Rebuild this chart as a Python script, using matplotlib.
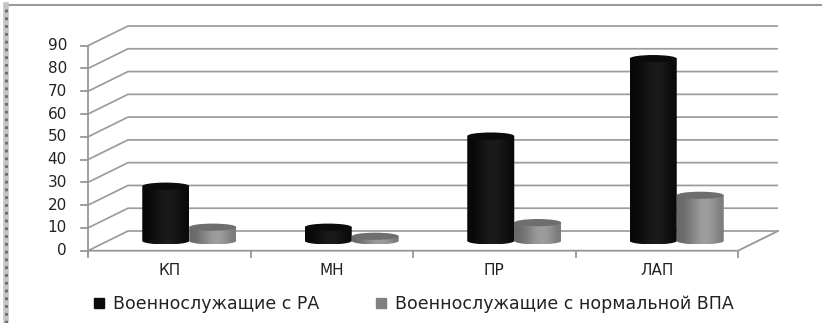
import numpy as np
import matplotlib
matplotlib.use("Agg")
import matplotlib.pyplot as plt
from matplotlib.patches import Ellipse, PathPatch
from matplotlib.path import Path
from matplotlib.lines import Line2D

# ---- data -------------------------------------------------------------
categories = ["КП", "МН", "ПР", "ЛАП"]
series_names = ["Военнослужащие с РА", "Военнослужащие с нормальной ВПА"]
values_ra = [24, 6, 46, 80]
values_norm = [6, 2, 8, 20]
y_ticks = [0, 10, 20, 30, 40, 50, 60, 70, 80, 90]

# ---- figure / pseudo-3D geometry (data units) ---------------------------
W, H = 822, 323
fig = plt.figure(figsize=(W / 100, H / 100), dpi=100)
ax = fig.add_axes([0, 0, 1, 1])

px_x = 162.5          # pixels per category
px_y = 205.0 / 90.0   # pixels per value unit
x0_px, y0_px = 88.0, 323 - 250.7
ax.set_xlim(-x0_px / px_x, (W - x0_px) / px_x)
ax.set_ylim(-y0_px / px_y, (H - y0_px) / px_y)
ax.axis("off")

n = len(categories)
dx = 40.0 / px_x      # depth offset, horizontal
dy = 19.7 / px_y      # depth offset, vertical
grid_c = "#9c9c9c"
axis_c = "#969696"

# walls: diagonal on the side wall + horizontal on the back wall
for v in y_ticks:
    ax.plot([0, dx, n + dx], [v, v + dy, v + dy], color=grid_c, lw=1.25,
            solid_capstyle="butt", zorder=1)
# vertical axis, floor front edge and right floor edge
ax.plot([0, 0], [-1.5, y_ticks[-1]], color=axis_c, lw=1.3, zorder=2)
ax.plot([0, n, n + dx], [0, 0, dy], color=axis_c, lw=1.3, zorder=2)
for v in y_ticks:
    ax.plot([-7 / px_x, 0], [v, v], color=axis_c, lw=1.3, zorder=2)
for i in range(n + 1):
    ax.plot([i, i], [0, -6 / px_y], color=axis_c, lw=1.3, zorder=2)

# tick labels
for v in y_ticks:
    ax.text(-21 / px_x, v, str(v), ha="right", va="center",
            fontsize=11, color="#222222", family="DejaVu Sans")
for i, c in enumerate(categories):
    ax.text(i + 0.5, -20 / px_y, c, ha="center", va="center",
            fontsize=11, color="#222222", family="DejaVu Sans")


# ---- cylinders ---------------------------------------------------------
def cylinder(cx, half_w, value, body_cols, top_col, z):
    base = dy / 2
    top = value + base
    e = 3.6 / px_y
    theta = np.linspace(np.pi, 2 * np.pi, 60)
    lower = np.column_stack([cx + half_w * np.cos(theta), base + e * np.sin(theta)])
    verts = np.vstack([[cx - half_w, top], lower, [cx + half_w, top], [cx - half_w, top]])
    codes = [Path.MOVETO] + [Path.LINETO] * (len(verts) - 2) + [Path.CLOSEPOLY]
    body = PathPatch(Path(verts, codes), facecolor="none", edgecolor="none", zorder=z)
    ax.add_patch(body)
    grad = np.array(body_cols, dtype=float)[None, :, :] / 255.0
    im = ax.imshow(grad, extent=(cx - half_w, cx + half_w, base - e, top),
                   aspect="auto", interpolation="bicubic", zorder=z)
    im.set_clip_path(body)
    ax.add_patch(Ellipse((cx, top), 2 * half_w, 2 * e, facecolor=top_col,
                         edgecolor="none", zorder=z + 0.5))


half = 23.5 / px_x
shift = dx / 2
black_cols = [(8, 8, 8), (14, 14, 14), (24, 24, 24), (28, 28, 28), (20, 20, 20), (10, 10, 10)]
gray_cols = [(104, 104, 104), (120, 120, 120), (146, 146, 146), (162, 162, 162), (150, 150, 150), (122, 122, 122)]
for i in range(n):
    c = i + 0.5 + shift
    cylinder(c + half, half, values_norm[i], gray_cols, "#6e6e6e", 3)
    cylinder(c - half, half, values_ra[i], black_cols, "#0b0b0b", 5)

ax.set_xlim(-x0_px / px_x, (W - x0_px) / px_x)
ax.set_ylim(-y0_px / px_y, (H - y0_px) / px_y)

# ---- legend ------------------------------------------------------------
handles = [
    Line2D([], [], marker="s", ls="none", color="#0b0b0b", markersize=7.5),
    Line2D([], [], marker="s", ls="none", color="#808080", markersize=7.5),
]
leg = fig.legend(handles, series_names, ncol=2, loc="center left",
                 bbox_to_anchor=(93 / W, 1 - 304 / H), frameon=False,
                 handlelength=0.7, handletextpad=0.45, columnspacing=3.2,
                 borderpad=0, borderaxespad=0,
                 prop={"family": "DejaVu Sans", "size": 12.5})
for t in leg.get_texts():
    t.set_color("#222222")

# ---- outer frame -------------------------------------------------------
fig.add_artist(Line2D([8 / W, 1], [1 - 5 / H, 1 - 5 / H], transform=fig.transFigure,
                      color="#9a9a9a", lw=1.5))
fig.add_artist(Line2D([6 / W, 6 / W], [0, 1 - 5 / H], transform=fig.transFigure,
                      color="#c4c4c4", lw=4))
fig.add_artist(Line2D([6 / W, 6 / W], [0, 1 - 5 / H], transform=fig.transFigure,
                      color="#6a6a6a", lw=2, ls=(0, (1, 1.8))))

fig.savefig("out.png", dpi=100)
